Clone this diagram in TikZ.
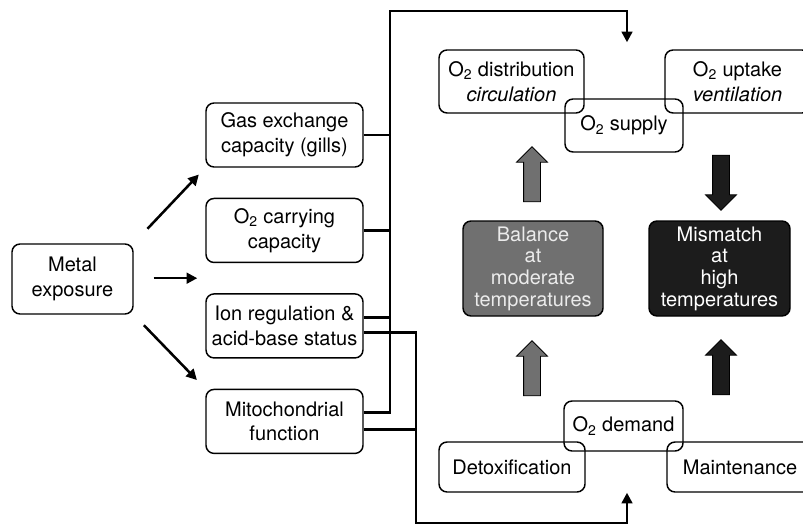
\documentclass[tikz,border=0pt]{standalone}
\usepackage{fontspec}
\setmainfont{TeX Gyre Heros}
\usetikzlibrary{arrows.meta,positioning,calc,shapes.arrows}

\definecolor{midgray}{HTML}{707070}
\definecolor{darkbox}{HTML}{1C1C1C}

\tikzset{
  box/.style={draw,line width=1.1pt,rounded corners=6pt,align=center,inner sep=2pt,font=\fontsize{15}{18.5}\selectfont},
  leftbox/.style={box,minimum width=117.75pt,minimum height=48pt},
  tempbox/.style={box,minimum height=71.25pt,font=\fontsize{15}{16.3}\selectfont},
  flow/.style={line width=1.9pt},
  tip/.style={-{Triangle[length=8pt,width=8pt]}},
  blockarrow/.style={single arrow,draw,line width=0.6pt,minimum height=41.25pt,inner xsep=0pt,inner ysep=6pt,single arrow head extend=5.25pt,single arrow head indent=0pt}
}

\begin{document}
\begin{tikzpicture}[x=0.75pt,y=-0.75pt]
  \useasboundingbox (0,0) rectangle (803,524);
  % left column
  \node[box,minimum width=90.75pt,minimum height=52.5pt] (metal) at (72.5,279) {Metal\\exposure};
  \node[leftbox] (gas) at (284.5,135) {Gas exchange\\capacity (gills)};
  \node[leftbox,below=22.5pt of gas] (carry) {O\textsubscript{2} carrying\\capacity};
  \node[leftbox,below=22.5pt of carry] (ion) {Ion regulation \&\\acid-base status};
  \node[leftbox,below=22.5pt of ion] (mito) {Mitochondrial\\function};
  \coordinate (midleft) at ($(carry.south west)!0.5!(ion.north west)$);
  \draw[flow,tip,shorten <=15pt,shorten >=7pt] (metal.north east)--(gas.south west);
  \draw[flow,tip,shorten <=15pt,shorten >=6pt] (metal.east |- midleft)--(midleft);
  \draw[flow,tip,shorten <=11pt,shorten >=9pt] (metal.south east)--(mito.north west);

  % supply and demand boxes
  \node[box,minimum width=108.75pt,minimum height=47.25pt] (dist) at (511.5,81.5) {O\textsubscript{2} distribution\\\textit{circulation}};
  \node[box,minimum width=108.75pt,minimum height=47.25pt] (uptake) at (737.5,81.5) {O\textsubscript{2} uptake\\\textit{ventilation}};
  \node[box,minimum width=88.5pt,minimum height=39.75pt] (supply) at (624,125.5) {O\textsubscript{2} supply};
  \node[tempbox,fill=midgray,text=white!92!black,minimum width=105pt] (balance) at (533,268.5) {Balance\\at\\moderate\\temperatures};
  \node[tempbox,fill=darkbox,text=white,minimum width=105.75pt] (mismatch) at (719.5,268.5) {Mismatch\\at\\high\\temperatures};
  \node[box,minimum width=89.25pt,minimum height=37.5pt] (demand) at (623.5,426) {O\textsubscript{2} demand};
  \node[box,minimum width=109.5pt,minimum height=37.5pt] (detox) at (512,467) {Detoxification};
  \node[box,minimum width=109.5pt,minimum height=37.5pt] (maint) at (740,467) {Maintenance};

  % block arrows
  \node[blockarrow,fill=midgray,rotate=90] (balup) at (532,178.5) {};
  \node[blockarrow,fill=midgray,rotate=90] (balin) at (532,372.5) {};
  \node[blockarrow,fill=darkbox,rotate=-90] (misdown) at (721,178.5) {};
  \node[blockarrow,fill=darkbox,rotate=90] (misin) at (721,371.5) {};

  % connectors to supply and demand
  \coordinate (busA) at (390,11);
  \coordinate (busB) at (416,523);
  \coordinate (supplyin) at ($(supply.north)+(3,-56)$);
  \coordinate (demandin) at ($(demand.south)+(3.5,41)$);
  \draw[flow,tip] ([yshift=6.75pt]mito.east) -| (busA) -| (supplyin);
  \draw[flow] (gas.east)--(gas.east -| busA);
  \draw[flow] (carry.east)--(carry.east -| busA);
  \draw[flow] ([yshift=6.4pt]ion.east)--([yshift=6.4pt]ion.east -| busA);
  \draw[flow,tip] ([yshift=-4.9pt]ion.east) -| (busB) -| (demandin);
  \draw[flow] ([yshift=-6pt]mito.east)--([yshift=-6pt]mito.east -| busB);
\end{tikzpicture}
\end{document}
